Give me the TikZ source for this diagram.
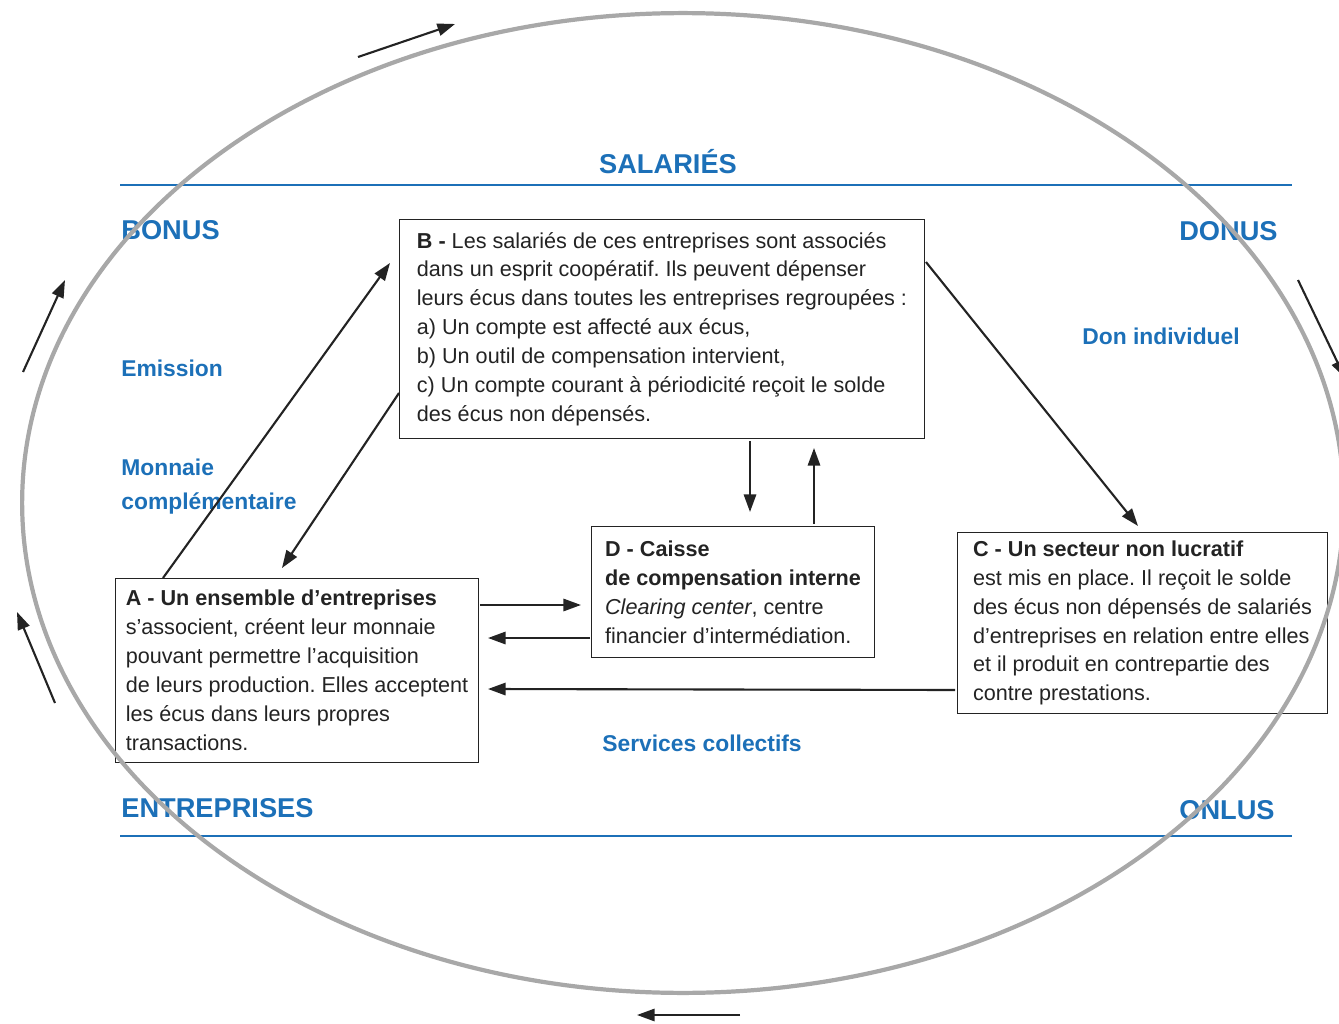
\documentclass[tikz,border=0pt]{standalone}
\usepackage{fontspec}
\setmainfont{Liberation Sans}
\usepackage{tikz}
\usetikzlibrary{arrows.meta,calc}
\definecolor{bleu}{RGB}{28,112,184}
\definecolor{encre}{RGB}{35,35,35}
\definecolor{gris}{RGB}{168,168,168}
\frenchspacing

\begin{document}
\begin{tikzpicture}[x=0.02cm,y=-0.02cm,
		boite/.style={draw=encre,line width=0.6pt,text=encre,align=left,anchor=north west,inner sep=0pt,font=\fontsize{12.3}{16.45}\selectfont},
		titre/.style={text=bleu,inner sep=0pt,font=\fontsize{15.5}{18}\selectfont\bfseries},
		soustitre/.style={text=bleu,inner sep=0pt,align=left,font=\fontsize{13}{19.3}\selectfont\bfseries},
		fleche/.style={draw=encre,line width=1.2pt,-{Triangle[length=10pt,width=7pt]}},
		regle/.style={draw=bleu,line width=0.9pt},
		anneau/.style={draw=gris,line width=2.4pt}]
		\useasboundingbox (0,0) rectangle (1339,1024);
		\draw[regle] (120,185) -- (1292,185);
		\draw[regle] (120,836) -- (1292,836);
		\node[titre] (salaries) at (668,162) {SALARIÉS};
		\node[titre,anchor=west] (bonus) at (121,230) {BONUS};
		\node[titre,anchor=east] (donus) at (1278,231) {DONUS};
		\node[titre,anchor=west] (entreprises) at (121,808) {ENTREPRISES};
		\node[titre,anchor=east] (onlus) at (1275,810) {ONLUS};
		\node[soustitre,anchor=west] (emission) at (121,368) {Emission};
		\node[soustitre,anchor=west] (monnaie) at (121,487) {Monnaie\\complémentaire};
		\node[soustitre,anchor=west] (don) at (1082,336) {Don individuel};
		\node[soustitre,anchor=west] (services) at (602,743) {Services collectifs};
		\node[boite,minimum width=10.5cm,minimum height=4.38cm] (B) at (399,219) {\textbf{B -} Les salariés de ces entreprises sont associés\\dans un esprit coopératif. Ils peuvent dépenser\\leurs écus dans toutes les entreprises regroupées :\\a) Un compte est affecté aux écus,\\b) Un outil de compensation intervient,\\c) Un compte courant à périodicité reçoit le solde\\des écus non dépensés.};
		\node[boite,minimum width=7.26cm,minimum height=3.68cm] (A) at (115,578) {\textbf{A - Un ensemble d’entreprises}\\s’associent, créent leur monnaie\\pouvant permettre l’acquisition\\de leurs production. Elles acceptent\\les écus dans leurs propres\\transactions.};
		\node[boite,minimum width=5.66cm,minimum height=2.62cm] (D) at (591,526) {\textbf{D - Caisse}\\\textbf{de compensation interne}\\\textit{Clearing center}, centre\\financier d’intermédiation.};
		\node[boite,minimum width=7.4cm,minimum height=3.62cm] (C) at (957,532) {\textbf{C - Un secteur non lucratif}\\est mis en place. Il reçoit le solde\\des écus non dépensés de salariés\\d’entreprises en relation entre elles\\et il produit en contrepartie des\\contre prestations.};
		\draw[fleche] ($(A.north west)+(48,0)$) -- ($(B.north west)+(-9,44)$);
		\draw[fleche] ($(B.north west)+(0,174)$) -- ($(A.north west)+(167,-10)$);
		\draw[fleche] ($(B.north east)+(1,43)$) -- ($(C.north west)+(181,-6)$);
		\draw[fleche] ($(B.south west)+(351,2)$) -- ($(D.north west)+(159,-14)$);
		\draw[fleche] ($(D.north west)+(223,-2)$) -- ($(B.south west)+(415,9)$);
		\draw[fleche] ($(A.north east)+(1,27)$) -- ($(D.north west)+(-10,79)$);
		\draw[fleche] ($(D.north west)+(-1,112)$) -- ($(A.north east)+(9,60)$);
		\draw[fleche] ($(C.north west)+(-2,158)$) -- ($(A.north east)+(9,111)$);
		\draw[anneau] (683,503) ellipse [x radius=13.22cm,y radius=9.8cm];
		\draw[fleche] (358,57) -- (455,24);
		\draw[fleche] (1298,280) -- (1345,378);
		\draw[fleche] (740,1015) -- (637,1015);
		\draw[fleche] (55,703) -- (17,612);
		\draw[fleche] (23,372) -- (65,280);
	\end{tikzpicture}
\end{document}
